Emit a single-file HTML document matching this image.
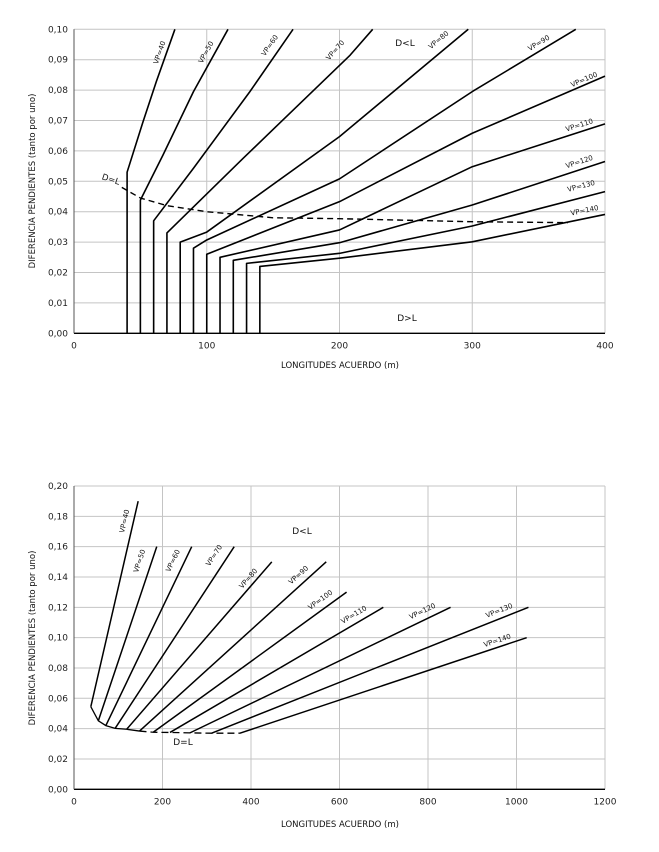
<!DOCTYPE html>
<html><head><meta charset="utf-8"><style>
body{margin:0;background:#fff;}
svg{display:block;font-family:"DejaVu Sans","Liberation Sans",sans-serif;}
</style></head><body>
<svg id="svg" width="659" height="852" viewBox="0 0 659 852"></svg>
<script>
// ---- top chart data ----
const topLabels = ["VP=40","VP=50","VP=60","VP=70","VP=80","VP=90","VP=100","VP=110","VP=120","VP=130","VP=140"];
const topX = [
 [40,40,52,62,76],[50,50,67,90,116],[60,60,90,132.5,165],[70,70,127.5,208,225],
 [80,80,100,200,297],[90,90,100,200,300,378],[100,100,200,300,400],[110,110,200,300,400],
 [120,120,200,300,400],[130,130,200,300,400],[140,140,200,300,400]];
const topY = [
 [0,0.053,0.0696,0.0828,0.10],[0,0.0438,0.0586,0.0795,0.10],[0,0.037,0.0543,0.0795,0.10],[0,0.033,0.0576,0.0915,0.10],
 [0,0.030,0.0333,0.0647,0.10],[0,0.028,0.0307,0.0508,0.0795,0.10],[0,0.026,0.0433,0.0658,0.0846],[0,0.025,0.034,0.0548,0.0689],
 [0,0.024,0.0298,0.0422,0.0565],[0,0.023,0.0263,0.0353,0.0466],[0,0.022,0.0247,0.0301,0.0391]];
const topDLx = [36,50,70,100,150,200,300,372];
const topDLy = [0.048,0.0445,0.042,0.040,0.038,0.0377,0.0367,0.0364];
const topXTicks = [0,100,200,300,400];
const topYTicks = ["0,00","0,01","0,02","0,03","0,04","0,05","0,06","0,07","0,08","0,09","0,10"];
// ---- bottom chart data ----
const botLabels = ["VP=40","VP=50","VP=60","VP=70","VP=80","VP=90","VP=100","VP=110","VP=120","VP=130","VP=140"];
const botX0 = [38,55,72,93,119,148,179,217,262,311,375];
const botY0 = [0.0545,0.0452,0.042,0.0402,0.0396,0.0384,0.0376,0.0375,0.0372,0.037,0.037];
const botX1 = [145,187,266,362,447,570,616,699,851,1027,1023];
const botY1 = [0.19,0.16,0.16,0.16,0.15,0.15,0.13,0.12,0.12,0.12,0.10];
const botXTicks = [0,200,400,600,800,1000,1200];
const botYTicks = ["0,00","0,02","0,04","0,06","0,08","0,10","0,12","0,14","0,16","0,18","0,20"];

const NS="http://www.w3.org/2000/svg";
const svg=document.getElementById('svg');
function el(tag,attrs,parent){const e=document.createElementNS(NS,tag);for(const k in attrs)e.setAttribute(k,attrs[k]);(parent||svg).appendChild(e);return e;}

function axes(g,x0,x1,y0,y1,xmax,ymax,xTicks,yTicks,ystep){
  const sx=v=>x0+(v/xmax)*(x1-x0), sy=v=>y0-(v/ymax)*(y0-y1);
  yTicks.forEach((t,i)=>{const y=sy(i*ystep);
    const gl=el('line',{x1:x0,x2:x1,y1:y,y2:y,stroke:'#c4c4c4','stroke-width':1},g);
    
    const tx=el('text',{x:x0-6,y:y+3,'text-anchor':'end','font-size':9,fill:'#222'},g);tx.textContent=t;
    });
  xTicks.forEach(v=>{const x=sx(v);
    const gl=el('line',{x1:x,x2:x,y1:y0,y2:y1,stroke:'#c4c4c4','stroke-width':1},g);
    
    const tx=el('text',{x:x,y:y0+15,'text-anchor':'middle','font-size':9,fill:'#222'},g);tx.textContent=v;
    });
  const ax=el('line',{x1:x0,x2:x1,y1:y0,y2:y0,stroke:'#000','stroke-width':1.3},g);
  
  const ay=el('line',{x1:x0,x2:x0,y1:y0,y2:y1,stroke:'#555','stroke-width':1},g);
  
  return [sx,sy];
}
function txt(g,x,y,s,size,rot,name){
  const t=el('text',{x:x,y:y,'font-size':size,'text-anchor':'middle',fill:'#111',transform:rot?`rotate(${rot} ${x} ${y})`:''},g);
  t.textContent=s;return t;
}
function angleAt(px,py,pts){
  let best=1e9,ang=0;
  for(let i=0;i<pts.length-1;i++){const [ax,ay]=pts[i],[bx,by]=pts[i+1];
    if(ax===bx)continue;
    const mx=(ax+bx)/2,my=(ay+by)/2,d=(mx-px)**2+(my-py)**2;
    if(d<best){best=d;ang=Math.atan2(by-ay,bx-ax)*180/Math.PI;}}
  return ang;
}

// ---- top chart ----
const g1=el('g',{});

const [tx,ty]=axes(g1,74,605,333.3,29.3,400,0.10,topXTicks,topYTicks,0.01);
const topLabPos=[[161.7,53.3],[208,53.3],[271.7,46.7],[337,51.7],[440,41.7],[540,45],[585,81.7],[580,127.3],[580,164],[581.7,188.3],[585,212.7]];
topX.forEach((xs,i)=>{
  const pts=xs.map((v,j)=>[tx(v),ty(topY[i][j])]);
  const p=el('polyline',{points:pts.map(p=>p.join(',')).join(' '),fill:'none',stroke:'#000','stroke-width':1.6,'stroke-linejoin':'round'},g1);
  
  
  const [lx,ly]=topLabPos[i];
  txt(g1,lx,ly,topLabels[i],7,angleAt(lx,ly,pts),'label-'+topLabels[i].toLowerCase().replace('=','-'));
});
const dl1=el('polyline',{points:topDLx.map((v,j)=>tx(v)+','+ty(topDLy[j])).join(' '),fill:'none',stroke:'#000','stroke-width':1.4,'stroke-dasharray':'6,4'},g1);

txt(g1,110,182,'D=L',8.5,18,'d-equals-l-label');
txt(g1,405,46,'D<L',9,0,'d-less-l-label');
txt(g1,407,321,'D>L',9,0,'d-greater-l-label');
txt(g1,340,368,'LONGITUDES ACUERDO (m)',8.5,0,'x-axis-title');
txt(g1,35,181,'DIFERENCIA PENDIENTES (tanto por uno)',8.5,-90,'y-axis-title');

// ---- bottom chart ----
const g2=el('g',{});

const [bx,by]=axes(g2,74,605,789.3,486,1200,0.20,botXTicks,botYTicks,0.02);
const botLabPos=[[126.7,521.7],[141.7,561.7],[175,561.7],[216,556.7],[250,580],[300,576.7],[321.7,601.7],[355,616.7],[423.3,613.3],[500,612.7],[498,642.7]];
botX0.forEach((v,i)=>{
  const pts=[[bx(v),by(botY0[i])],[bx(botX1[i]),by(botY1[i])]];
  const p=el('line',{x1:pts[0][0],y1:pts[0][1],x2:pts[1][0],y2:pts[1][1],stroke:'#000','stroke-width':1.5},g2);
  
  
  const [lx,ly]=botLabPos[i];
  txt(g2,lx,ly,botLabels[i],7,angleAt(lx,ly,pts),'label-'+botLabels[i].toLowerCase().replace('=','-'));
});
const solidN=6;
const dls=el('polyline',{points:botX0.slice(0,solidN).map((v,j)=>bx(v)+','+by(botY0[j])).join(' '),fill:'none',stroke:'#000','stroke-width':1.3},g2);

const dld=el('polyline',{points:botX0.slice(solidN-1).map((v,j)=>bx(v)+','+by(botY0[j+solidN-1])).join(' '),fill:'none',stroke:'#000','stroke-width':1.3,'stroke-dasharray':'7,4'},g2);

txt(g2,183,745,'D=L',9,0,'d-equals-l-label');
txt(g2,302,534,'D<L',9,0,'d-less-l-label');
txt(g2,340,827,'LONGITUDES ACUERDO (m)',8.5,0,'x-axis-title');
txt(g2,35,638,'DIFERENCIA PENDIENTES (tanto por uno)',8.5,-90,'y-axis-title');
</script>
</body></html>
